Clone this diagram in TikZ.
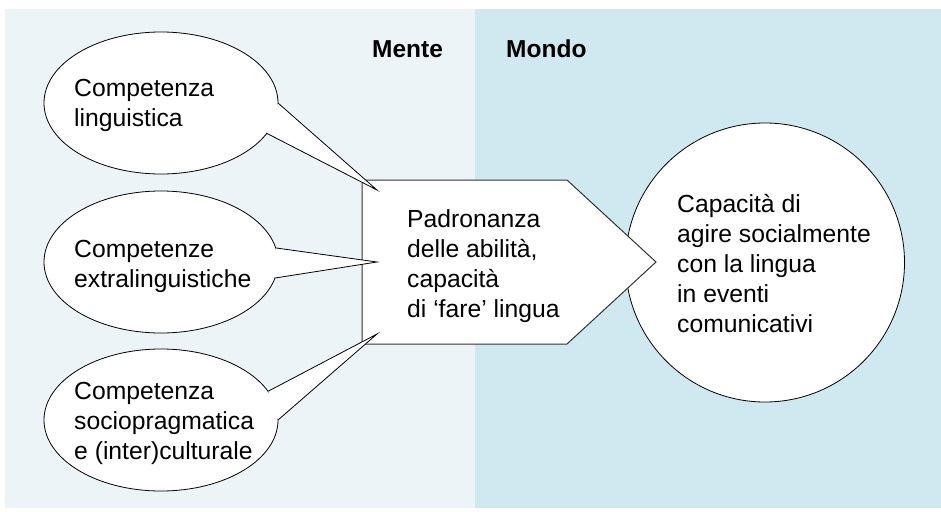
\documentclass[tikz,border=0pt]{standalone}
\usepackage{fontspec}
\setmainfont{Liberation Sans}
\usetikzlibrary{shapes.geometric}
\definecolor{mente}{RGB}{236,244,248}
\definecolor{mondo}{RGB}{208,232,240}

\begin{document}
\begin{tikzpicture}[x=1pt,y=-1pt,
    bubble/.style={ellipse,draw,fill=white,line width=.8pt,minimum width=234pt,minimum height=142pt,inner sep=0pt,outer sep=0pt},
    tail/.style={draw,fill=white,line width=.8pt},
    txt/.style={anchor=north west,align=left,inner sep=0pt,font=\fontsize{24.7}{30}\selectfont},
    head/.style={anchor=base west,inner sep=0pt,font=\fontsize{24.5}{30}\selectfont\bfseries}]
  \useasboundingbox (0,0) rectangle (941,511);
  \fill[mente] (5,9) rectangle (475,508);
  \fill[mondo] (475,9) rectangle (941,508);
  \node[head] (mente) at (372,57) {Mente};
  \node[head] (mondo) at (506,57) {Mondo};
  % mondo
  \node[circle,draw,fill=white,line width=.8pt,minimum size=279pt,inner sep=0pt] (agire) at (765,262.5) {};
  % padronanza
  \draw[fill=white,draw=black!80,line width=1pt] (362,180) -- (567,180) -- (656,262) -- (567,344) -- (362,344) -- cycle;
  \coordinate (t1) at (377,190);
  \coordinate (t2) at (377,262);
  \coordinate (t3) at (377,334);
  % competenze
  \node[bubble] (lingu) at (161,103) {};
  \node[bubble] (extra) at (161,262) {};
  \node[bubble] (socio) at (161,420) {};
  \path[tail] (lingu.0) -- (t1) -- (lingu.-16);
  \path[tail] (extra.7.5) -- (t2) -- (extra.-8.3);
  \path[tail] (socio.15.3) -- (t3) -- (socio.0);
  % testi
  \node[txt] (lingut) at (74,79) {Competenza\\linguistica};
  \node[txt] (extrat) at (74,240) {Competenze\\extralinguistiche};
  \node[txt] (sociot) at (74,382) {Competenza\\sociopragmatica\\e (inter)culturale};
  \node[txt] (padrot) at (407,209) {Padronanza\\delle abilità,\\capacità\\di ‘fare’ lingua};
  \node[txt] (agiret) at (677,194) {Capacità di\\agire socialmente\\con la lingua\\in eventi\\comunicativi};
\end{tikzpicture}
\end{document}
